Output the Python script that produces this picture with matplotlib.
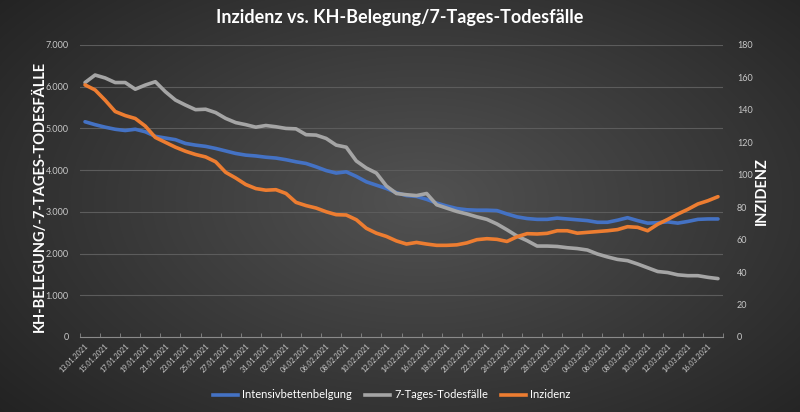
import numpy as np
import pandas as pd
import matplotlib
matplotlib.use("Agg")
import matplotlib.pyplot as plt
from matplotlib.lines import Line2D
from matplotlib.ticker import FuncFormatter

# ---- data ----
start_date = "2021-01-13"
n_days = 64
dates = pd.date_range(start_date, periods=n_days, freq="D")
date_labels = [d.strftime("%d.%m.%Y") for d in dates]

intensiv = [5160, 5090, 5030, 4980, 4950, 4980, 4920, 4810, 4770, 4730,
            4640, 4600, 4570, 4520, 4460, 4400, 4360, 4340, 4310, 4290,
            4250, 4200, 4160, 4080, 3990, 3930, 3960, 3850, 3720, 3640,
            3560, 3460, 3390, 3370, 3300, 3210, 3140, 3080, 3050, 3040,
            3040, 3030, 2950, 2880, 2840, 2820, 2820, 2850, 2830, 2810,
            2790, 2750, 2750, 2800, 2860, 2790, 2730, 2740, 2760, 2730,
            2770, 2820, 2830, 2830]

todesfaelle = [6100, 6280, 6210, 6100, 6100, 5940, 6040, 6120, 5880, 5680,
               5560, 5450, 5460, 5380, 5240, 5140, 5090, 5030, 5070, 5040,
               5000, 4990, 4850, 4840, 4760, 4600, 4550, 4220, 4050, 3930,
               3620, 3440, 3410, 3390, 3440, 3170, 3090, 3010, 2950, 2880,
               2820, 2710, 2570, 2420, 2310, 2180, 2180, 2170, 2140, 2120,
               2085, 1990, 1920, 1860, 1830, 1750, 1660, 1570, 1545, 1490,
               1470, 1470, 1430, 1400]

inzidenz = [155.4, 152.3, 146, 139, 136.5, 134.7, 130, 123, 120, 117,
            114.5, 112.5, 111, 108, 101.5, 98, 94, 91.5, 90.5, 90.8,
            88.5, 83, 81, 79.5, 77.2, 75.4, 75.2, 72.3, 67, 64,
            62, 59.2, 57.3, 58.3, 57.3, 56.5, 56.5, 56.8, 58, 60,
            60.6, 60.2, 58.9, 61.8, 63.7, 63.5, 63.9, 65.5, 65.5, 64,
            64.5, 65, 65.5, 66.2, 68, 67.6, 65.5, 69.5, 72.5, 75.8,
            78.7, 82, 84, 86.5]

title = "Inzidenz vs. KH-Belegung/7-Tages-Todesfälle"
left_title = "KH-BELEGUNG/-7-TAGES-TODESFÄLLE"
right_title = "INZIDENZ"
series_names = ["Intensivbettenbelgung", "7-Tages-Todesfälle", "Inzidenz"]

c_blue = "#4472C4"
c_grey = "#A5A5A5"
c_orange = "#ED7D31"
tick_col = "#c8c8c8"
grid_col = "#5c5c5c"

plt.rcParams["font.family"] = ["Lato", "DejaVu Sans"]

fig = plt.figure(figsize=(8, 4.12), dpi=100)

# background radial gradient
bg = fig.add_axes([0, 0, 1, 1], zorder=-10)
yy, xx = np.mgrid[0:412, 0:800]
r = np.sqrt(((xx - 420) / 560.0) ** 2 + ((yy - 200) / 330.0) ** 2)
r = np.clip(r, 0, 1)
inner = np.array([0x52, 0x52, 0x52]) / 255.0
outer = np.array([0x22, 0x22, 0x22]) / 255.0
img = inner[None, None, :] * (1 - r[..., None]) + outer[None, None, :] * r[..., None]
bg.imshow(img, aspect="auto", extent=[0, 1, 0, 1])
bg.axis("off")

ax = fig.add_axes([80 / 800, 1 - 337 / 412, (723 - 80) / 800, (337 - 45) / 412])
ax.patch.set_alpha(0)
ax2 = ax.twinx()
ax2.patch.set_alpha(0)

x = np.arange(n_days)
lw = 2.6
ax.plot(x, intensiv, color=c_blue, lw=lw, solid_capstyle="round", solid_joinstyle="round", zorder=3)
ax.plot(x, todesfaelle, color=c_grey, lw=lw, solid_capstyle="round", solid_joinstyle="round", zorder=3)
ax2.plot(x, inzidenz, color=c_orange, lw=lw, solid_capstyle="round", solid_joinstyle="round", zorder=3)

ax.set_xlim(-0.5, n_days - 0.5)
ax.set_ylim(0, 7000)
ax2.set_ylim(0, 180)
ax.set_yticks(np.arange(0, 7001, 1000))
ax2.set_yticks(np.arange(0, 181, 20))
ax.yaxis.set_major_formatter(FuncFormatter(lambda v, p: f"{int(v):,}".replace(",", ".")))

ax.grid(axis="y", color=grid_col, lw=0.8)
ax.set_axisbelow(True)

for a in (ax, ax2):
    for s in a.spines.values():
        s.set_visible(False)
ax.spines["bottom"].set_visible(True)
ax.spines["bottom"].set_color("#8a8a8a")
ax.spines["bottom"].set_linewidth(0.8)

ax.tick_params(axis="y", length=0, colors=tick_col, labelsize=6.5, pad=8)
ax2.tick_params(axis="y", length=0, colors=tick_col, labelsize=6.5, pad=10)

ax.set_xticks(x[::2])
ax.set_xticklabels(date_labels[::2], rotation=45, ha="right", rotation_mode="anchor",
                   fontsize=5.2, color=tick_col)
ax.set_xticks(np.arange(-0.5, n_days, 2), minor=True)
ax.tick_params(axis="x", which="major", length=0, pad=4)
ax.tick_params(axis="x", which="minor", length=3, direction="in", color="#8a8a8a")

fig.text(0.5, 1 - 18 / 412, title, ha="center", va="center", fontsize=13,
         fontweight="bold", color="white")
fig.text(40 / 800, 1 - 196 / 412, left_title, ha="center", va="center", rotation=90,
         fontsize=10.5, fontweight="bold", color="white")
fig.text(762 / 800, 1 - 191 / 412, right_title, ha="center", va="center", rotation=90,
         fontsize=10.5, fontweight="bold", color="white")

handles = [Line2D([0], [0], color=c, lw=2.6) for c in (c_blue, c_grey, c_orange)]
leg = fig.legend(handles, series_names, loc="center", bbox_to_anchor=(0.49, 1 - 395 / 412),
                 ncol=3, frameon=False, fontsize=8, handlelength=2.2, columnspacing=1.2,
                 handletextpad=0.4)
for t in leg.get_texts():
    t.set_color("white")

fig.savefig("out.png", dpi=100)
